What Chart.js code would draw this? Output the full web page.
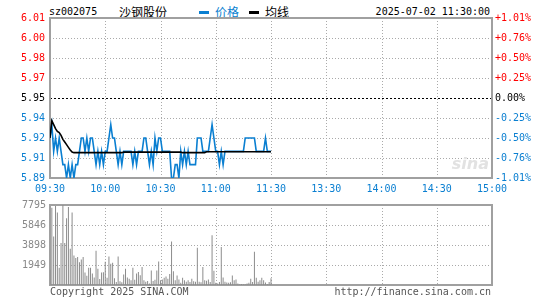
<!DOCTYPE html>
<html>
<head>
<meta charset="utf-8">
<script src="https://cdn.jsdelivr.net/npm/chart.js@4.4.0/dist/chart.umd.min.js"></script>
<style>
  body { margin: 0; background: #fff; }
  #wrap { position: relative; width: 545px; height: 300px; overflow: hidden; font: 10px "DejaVu Sans Mono", monospace; color: #000; }
  .t { position: absolute; white-space: nowrap; line-height: 12px; }
  .cjk { font: 12px "Noto Sans CJK SC", sans-serif; line-height: 14px; }
  .dash { position: absolute; width: 10px; height: 3px; }
  canvas { position: absolute; left: 0; }
</style>
</head>
<body>
<div id="wrap">
  <div class="t" style="left:49px;top:6px">sz002075</div>
  <div class="t cjk" style="left:119px;top:5px">沙钢股份</div>
  <div class="dash" style="left:199px;top:11px;background:#0a7fd1"></div>
  <div class="t cjk" style="left:215px;top:5px;color:#0a7fd1">价格</div>
  <div class="dash" style="left:249px;top:11px;background:#000"></div>
  <div class="t cjk" style="left:265px;top:5px">均线</div>
  <div class="t" style="right:55px;top:6px">2025-07-02 11:30:00</div>
  <canvas id="priceChart" width="545" height="196" style="top:0"></canvas>
  <canvas id="volChart" width="545" height="105" style="top:195px"></canvas>
  <div class="t" style="left:50px;top:286px;color:#555">Copyright 2025 SINA.COM</div>
  <div class="t" style="right:54px;top:286px;color:#555">http://finance.sina.com.cn</div>
</div>
<script>
// tick labels
const timeLabels = ['09:30', '10:00', '10:30', '11:00', '11:30', '13:30', '14:00', '14:30', '15:00'];
const priceTickLabels = ['5.89', '5.91', '5.92', '5.94', '5.95', '5.97', '5.98', '6.00', '6.01'];
const pctTickLabels = ['-1.01%', '-0.76%', '-0.50%', '-0.25%', '0.00%', '+0.25%', '+0.50%', '+0.76%', '+1.01%'];
const volTickValues = [0, 1949, 3898, 5846, 7795];
const volTickLabels = ['', '1949', '3898', '5846', '7795'];
const priceMin = 5.89, priceMax = 6.01;

// minute data, 09:30 .. 11:30
const prices = [
  5.92, 5.93, 5.91, 5.92, 5.91, 5.92, 5.91, 5.90, 5.90, 5.89,
  5.90, 5.89, 5.90, 5.89, 5.90, 5.90, 5.91, 5.92, 5.92, 5.91,
  5.92, 5.91, 5.92, 5.92, 5.91, 5.90, 5.91, 5.90, 5.91, 5.90,
  5.91, 5.91, 5.92, 5.93, 5.92, 5.92, 5.91, 5.90, 5.91, 5.90,
  5.91, 5.91, 5.91, 5.91, 5.91, 5.90, 5.91, 5.90, 5.91, 5.91,
  5.91, 5.92, 5.92, 5.91, 5.90, 5.91, 5.90, 5.92, 5.91, 5.92,
  5.92, 5.91, 5.91, 5.91, 5.91, 5.91, 5.89, 5.89, 5.90, 5.90,
  5.89, 5.91, 5.90, 5.91, 5.90, 5.91, 5.90, 5.90, 5.90, 5.90,
  5.92, 5.92, 5.92, 5.91, 5.91, 5.91, 5.91, 5.92, 5.93, 5.92,
  5.91, 5.91, 5.90, 5.91, 5.90, 5.91, 5.91, 5.91, 5.91, 5.91,
  5.91, 5.91, 5.91, 5.91, 5.91, 5.91, 5.92, 5.92, 5.92, 5.92,
  5.92, 5.92, 5.91, 5.91, 5.91, 5.91, 5.91, 5.92, 5.91, 5.91,
  5.91
];
const avgPrices = [
  5.920, 5.933, 5.930, 5.927, 5.925, 5.924, 5.922, 5.919, 5.917, 5.915,
  5.913, 5.911, 5.9095, 5.909, 5.909, 5.909, 5.909, 5.909, 5.909, 5.909,
  5.909, 5.909, 5.909, 5.909, 5.909, 5.909, 5.909, 5.909, 5.909, 5.909,
  5.909, 5.909, 5.909, 5.909, 5.909, 5.909, 5.909, 5.909, 5.909, 5.909,
  5.9094, 5.9094, 5.9094, 5.9094, 5.9094, 5.9094, 5.9094, 5.9094, 5.9094, 5.9094,
  5.9094, 5.9094, 5.9094, 5.9094, 5.9094, 5.9094, 5.9094, 5.9094, 5.9094, 5.9094,
  5.9094, 5.9094, 5.9094, 5.9094, 5.9094, 5.9094, 5.9094, 5.9094, 5.9094, 5.9094,
  5.9094, 5.9094, 5.909, 5.909, 5.909, 5.909, 5.909, 5.909, 5.909, 5.909,
  5.909, 5.909, 5.909, 5.909, 5.909, 5.9097, 5.9097, 5.9097, 5.9097, 5.9097,
  5.9097, 5.9097, 5.9097, 5.9097, 5.9097, 5.9097, 5.9097, 5.9097, 5.9097, 5.9097,
  5.9097, 5.9097, 5.9097, 5.9097, 5.9097, 5.9097, 5.9097, 5.9097, 5.9097, 5.9097,
  5.9097, 5.9097, 5.9097, 5.9097, 5.9097, 5.9097, 5.9097, 5.9097, 5.9097, 5.9097,
  5.9097
];
const volumes = [
  1485, 7517, 4733, 7700, 7053, 1670, 4083, 7795, 4083, 6496,
  7610, 3526, 7053, 2877, 2630, 2720, 2227, 2475, 2720, 1206,
  897, 1670, 1670, 1114, 742, 3340, 1578, 585, 1206, 1237,
  2258, 711, 2784, 2073, 2165, 650, 300, 2784, 371, 280,
  1020, 1578, 742, 600, 464, 1670, 500, 1114, 1268, 959,
  1763, 464, 309, 400, 155, 1422, 400, 500, 1422, 2290,
  464, 526, 711, 835, 619, 1082, 4238, 1330, 464, 928,
  526, 216, 711, 464, 309, 464, 300, 619, 371, 309,
  3619, 309, 278, 1763, 464, 402, 526, 300, 4857, 1392,
  216, 155, 300, 3712, 742, 309, 247, 216, 278, 928,
  464, 526, 155, 62, 93, 62, 62, 155, 216, 619,
  300, 3248, 711, 309, 464, 711, 464, 247, 93, 300,
  650
];

const BLUE = '#0a7fd1', RED = '#ff0000';
const monoFont = { family: 'DejaVu Sans Mono', size: 10 };

// frame + dotted grid, drawn from the chart's own scales
const framePlugin = {
  id: 'frame',
  beforeDatasetsDraw(chart, args, opts) {
    const { ctx, chartArea: a, scales } = chart;
    ctx.save();
    ctx.lineWidth = 1;
    scales.x.ticks.forEach((t, i, arr) => {
      if (i === 0 || i === arr.length - 1) return;
      const px = Math.round(scales.x.getPixelForValue(t.value)) + 0.5;
      ctx.strokeStyle = '#aaa';
      ctx.setLineDash([1, 2]);
      ctx.beginPath(); ctx.moveTo(px, a.top); ctx.lineTo(px, a.bottom); ctx.stroke();
    });
    scales.y.ticks.forEach((t, i, arr) => {
      if (i === 0 || i === arr.length - 1) return;
      const py = Math.round(scales.y.getPixelForValue(t.value)) + 0.5;
      if (opts.mid && i === 4) {
        ctx.strokeStyle = '#000';
        ctx.setLineDash([2, 2]);
      } else {
        ctx.strokeStyle = '#aaa';
        ctx.setLineDash([1, 2]);
      }
      ctx.beginPath(); ctx.moveTo(a.left, py); ctx.lineTo(a.right, py); ctx.stroke();
    });
    if (opts.logo) {
      ctx.setLineDash([]);
      ctx.fillStyle = '#e2e2e2';
      ctx.font = 'italic bold 16px "DejaVu Sans"';
      ctx.textAlign = 'right';
      ctx.fillText('sina', a.right - 3, a.bottom - 9);
    }
    ctx.setLineDash([]);
    ctx.strokeStyle = '#a0a0a0';
    ctx.lineWidth = 2;
    ctx.strokeRect(a.left, a.top, a.right - a.left, a.bottom - a.top);
    ctx.restore();
  }
};

const timeTicks = s => { s.ticks = timeLabels.map((_, i) => ({ value: i * 30 })); };
const priceTicks = s => { s.ticks = priceTickLabels.map((_, i) => ({ value: priceMin + i * (priceMax - priceMin) / 8 })); };
const priceColor = c => c.index < 4 ? BLUE : (c.index === 4 ? '#000' : RED);

new Chart(document.getElementById('priceChart'), {
  type: 'line',
  data: {
    datasets: [
      {
        label: '均线',
        data: avgPrices.map((v, i) => ({ x: i, y: v })),
        borderColor: '#000',
        borderWidth: 1.6,
        pointRadius: 0,
        tension: 0,
        order: 0
      },
      {
        label: '价格',
        data: prices.map((v, i) => ({ x: i, y: v })),
        borderColor: BLUE,
        borderWidth: 1.6,
        pointRadius: 0,
        tension: 0,
        order: 1
      }
    ]
  },
  options: {
    responsive: false,
    animation: false,
    layout: { padding: { top: 18, left: 0, right: 0, bottom: 0 } },
    plugins: { legend: { display: false }, tooltip: { enabled: false }, frame: { mid: true, logo: true } },
    scales: {
      x: {
        type: 'linear', min: 0, max: 240, offset: false,
        afterBuildTicks: timeTicks,
        afterFit: s => { s.height = 18; },
        grid: { display: false, drawTicks: false }, border: { display: false },
        ticks: { autoSkip: false, maxRotation: 0, padding: 5, color: BLUE, font: monoFont, callback: (v, i) => timeLabels[i] }
      },
      y: {
        type: 'linear', position: 'left', min: priceMin, max: priceMax,
        afterBuildTicks: priceTicks,
        afterFit: s => { s.width = 50; },
        grid: { display: false, drawTicks: false }, border: { display: false },
        ticks: { padding: 5, color: priceColor, font: monoFont, callback: (v, i) => priceTickLabels[i] }
      },
      y2: {
        type: 'linear', position: 'right', min: priceMin, max: priceMax,
        afterBuildTicks: priceTicks,
        afterFit: s => { s.width = 53; },
        grid: { display: false, drawTicks: false }, border: { display: false },
        ticks: { padding: 3, color: priceColor, font: monoFont, callback: (v, i) => pctTickLabels[i] }
      }
    }
  },
  plugins: [framePlugin]
});

new Chart(document.getElementById('volChart'), {
  type: 'bar',
  data: {
    datasets: [{
      label: 'volume',
      data: volumes.map((v, i) => ({ x: i, y: v })),
      backgroundColor: '#8c8c8c',
      borderWidth: 0,
      inflateAmount: 0,
      barThickness: 1
    }]
  },
  options: {
    responsive: false,
    animation: false,
    layout: { padding: { top: 6, left: 0, right: 53, bottom: 0 } },
    plugins: { legend: { display: false }, tooltip: { enabled: false }, frame: { mid: false, logo: false } },
    scales: {
      x: {
        type: 'linear', min: 0, max: 240, offset: false,
        afterBuildTicks: timeTicks,
        afterFit: s => { s.height = 15; },
        grid: { display: false, drawTicks: false }, border: { display: false },
        ticks: { display: false }
      },
      y: {
        type: 'linear', position: 'left', min: 0, max: 7795,
        afterBuildTicks: s => { s.ticks = volTickValues.map(v => ({ value: v })); },
        afterFit: s => { s.width = 50; },
        grid: { display: false, drawTicks: false }, border: { display: false },
        ticks: { padding: 4, color: '#888', font: monoFont, callback: (v, i) => volTickLabels[i] }
      }
    }
  },
  plugins: [framePlugin]
});
</script>
</body>
</html>
